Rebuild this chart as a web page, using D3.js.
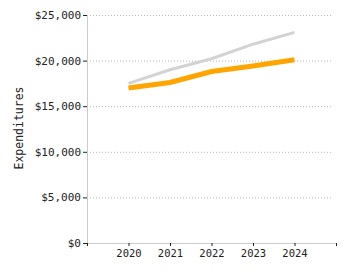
<!DOCTYPE html>
<html>
<head>
<meta charset="utf-8">
<script src="https://cdn.jsdelivr.net/npm/d3@7"></script>
<style>
  body { margin: 0; background: #fff; }
  text { font-family: "DejaVu Sans Mono", "Liberation Mono", monospace; fill: #222; }
</style>
</head>
<body>
<div id="chart"></div>
<script>
var years = [2020, 2021, 2022, 2023, 2024];
var seriesGrey = [17500, 19000, 20200, 21800, 23100];
var seriesOrange = [17000, 17600, 18800, 19400, 20100];
var yTicks = [0, 5000, 10000, 15000, 20000, 25000];
var xTicks = [2019, 2020, 2021, 2022, 2023, 2024, 2025];

var margin = { top: 15, right: 14, bottom: 32, left: 87 };
var width = 350 - margin.left - margin.right;
var height = 275 - margin.top - margin.bottom;

var svg = d3.select("#chart")
  .append("svg")
  .attr("width", 350)
  .attr("height", 275)
  .append("g")
  .attr("transform", "translate(" + margin.left + "," + margin.top + ")");

var x = d3.scaleLinear()
  .domain([2019, 2025])
  .range([0, width]);

var y = d3.scaleLinear()
  .domain([0, 25000])
  .range([height, 0]);

// gridlines
svg.append("g")
  .selectAll("line")
  .data(yTicks.slice(1))
  .enter()
  .append("line")
  .attr("x1", 0)
  .attr("x2", width - 3)
  .attr("y1", function (d) { return y(d) + 0.5; })
  .attr("y2", function (d) { return y(d) + 0.5; })
  .style("stroke", "#bbb")
  .style("stroke-dasharray", "1,2");

// y axis
var yAxis = svg.append("g")
  .call(d3.axisLeft(y).tickValues(yTicks).tickSize(4).tickSizeOuter(0)
    .tickFormat(function (d) { return "$" + d3.format(",")(d); }));
yAxis.select(".domain").style("stroke", "#ccc");
yAxis.selectAll(".tick line").style("stroke", "#222");
yAxis.selectAll(".tick text").style("font-size", "11px").attr("x", -6);

// x axis
var xAxis = svg.append("g")
  .attr("transform", "translate(0," + height + ")")
  .call(d3.axisBottom(x).tickValues(xTicks).tickSize(3).tickSizeOuter(0)
    .tickFormat(function (d) { return (d === 2019 || d === 2025) ? "" : d; }));
xAxis.select(".domain").style("stroke", "#ccc");
xAxis.selectAll(".tick line").style("stroke", "#222");
xAxis.selectAll(".tick text").style("font-size", "10.5px").attr("y", 7);

// y axis title
svg.append("text")
  .attr("transform", "rotate(-90)")
  .attr("x", -128 + margin.top)
  .attr("y", -64)
  .attr("text-anchor", "middle")
  .style("font-size", "11.5px")
  .text("Expenditures");

var line = d3.line()
  .x(function (d, i) { return x(years[i]); })
  .y(function (d) { return y(d); });

svg.append("path")
  .datum(seriesGrey)
  .attr("d", line)
  .style("fill", "none")
  .style("stroke", "#d3d3d3")
  .style("stroke-width", 3);

svg.append("path")
  .datum(seriesOrange)
  .attr("d", line)
  .style("fill", "none")
  .style("stroke", "#ffa500")
  .style("stroke-width", 5);
</script>
</body>
</html>
